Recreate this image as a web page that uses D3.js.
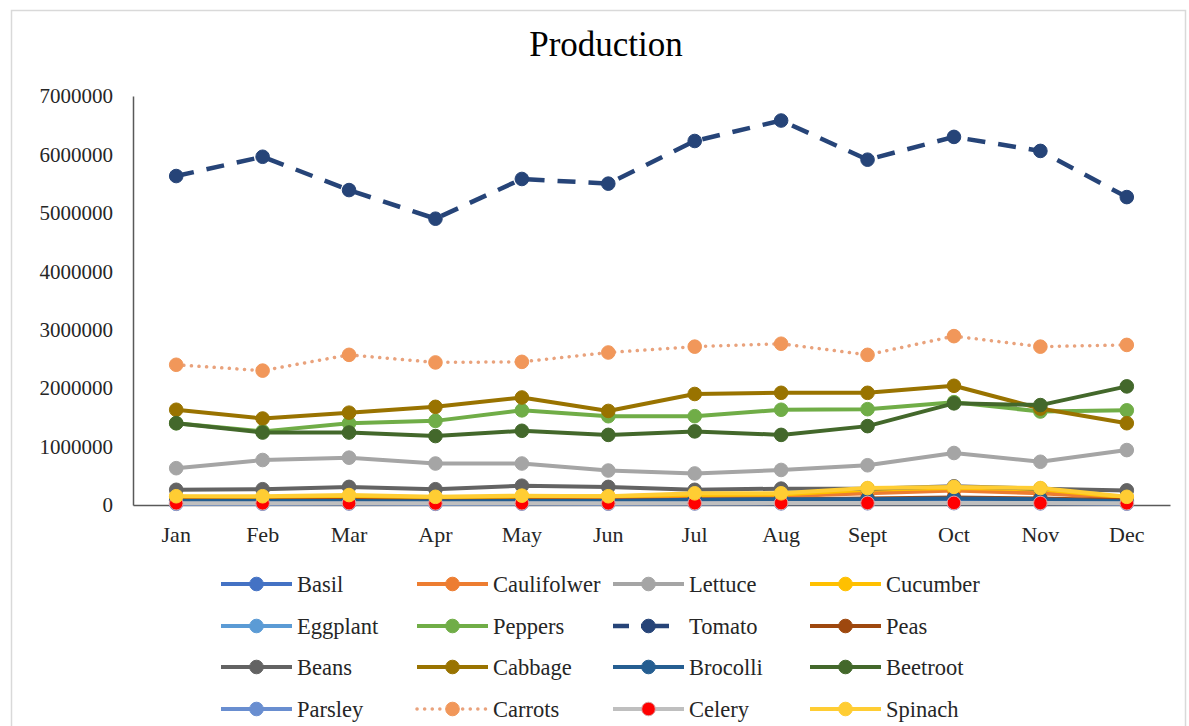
<!DOCTYPE html>
<html>
<head>
<meta charset="utf-8">
<script src="https://cdn.jsdelivr.net/npm/d3@7"></script>
<style>
  html, body { margin: 0; padding: 0; background: #ffffff; }
  svg text { font-family: "Liberation Serif", "Times New Roman", serif; fill: #262626; }
</style>
</head>
<body>
<svg id="chart" width="1189" height="726"></svg>
<script>
// Monthly production per vegetable
const months = ["Jan", "Feb", "Mar", "Apr", "May", "Jun", "Jul", "Aug", "Sept", "Oct", "Nov", "Dec"];
const yTicks = [0, 1000000, 2000000, 3000000, 4000000, 5000000, 6000000, 7000000];

const basil      = [40000, 45000, 50000, 42000, 48000, 45000, 50000, 52000, 55000, 60000, 50000, 45000];
const cauliflower= [120000, 110000, 130000, 100000, 120000, 110000, 130000, 150000, 200000, 250000, 200000, 120000];
const lettuce    = [630000, 770000, 810000, 710000, 710000, 590000, 540000, 600000, 680000, 890000, 740000, 940000];
const cucumber   = [140000, 130000, 150000, 120000, 140000, 150000, 170000, 180000, 260000, 290000, 270000, 130000];
const eggplant   = [30000, 32000, 35000, 30000, 34000, 32000, 36000, 38000, 40000, 42000, 38000, 33000];
const peppers    = [1400000, 1260000, 1400000, 1440000, 1620000, 1520000, 1520000, 1630000, 1640000, 1760000, 1600000, 1620000];
const tomato     = [5630000, 5960000, 5390000, 4900000, 5580000, 5500000, 6230000, 6580000, 5910000, 6300000, 6060000, 5270000];
const peas       = [80000, 75000, 85000, 70000, 80000, 75000, 90000, 95000, 110000, 130000, 110000, 80000];
const beans      = [260000, 270000, 310000, 270000, 330000, 310000, 260000, 280000, 280000, 320000, 280000, 250000];
const cabbage    = [1630000, 1480000, 1580000, 1680000, 1840000, 1610000, 1900000, 1920000, 1920000, 2040000, 1650000, 1400000];
const brocolli   = [70000, 70000, 70000, 60000, 70000, 70000, 90000, 100000, 100000, 110000, 100000, 60000];
const beetroot   = [1400000, 1240000, 1240000, 1180000, 1270000, 1200000, 1260000, 1200000, 1350000, 1740000, 1710000, 2030000];
const parsley    = [20000, 22000, 25000, 20000, 24000, 22000, 26000, 28000, 30000, 32000, 28000, 22000];
const carrots    = [2400000, 2300000, 2570000, 2440000, 2450000, 2610000, 2710000, 2760000, 2570000, 2890000, 2710000, 2740000];
const celery     = [30000, 30000, 32000, 28000, 30000, 30000, 32000, 34000, 35000, 36000, 34000, 30000];
const spinach    = [150000, 150000, 170000, 140000, 160000, 150000, 200000, 200000, 290000, 310000, 290000, 140000];

const seriesNames = ["Basil", "Caulifolwer", "Lettuce", "Cucumber", "Eggplant", "Peppers", "Tomato", "Peas",
                     "Beans", "Cabbage", "Brocolli", "Beetroot", "Parsley", "Carrots", "Celery", "Spinach"];
const seriesValues = [basil, cauliflower, lettuce, cucumber, eggplant, peppers, tomato, peas,
                      beans, cabbage, brocolli, beetroot, parsley, carrots, celery, spinach];

// Styling per series: line colour, marker colour, dash style
const styles = {
  "Basil":       { line: "#4472C4", marker: "#4472C4" },
  "Caulifolwer": { line: "#ED7D31", marker: "#ED7D31" },
  "Lettuce":     { line: "#A5A5A5", marker: "#A5A5A5" },
  "Cucumber":    { line: "#FFC000", marker: "#FFC000" },
  "Eggplant":    { line: "#5B9BD5", marker: "#5B9BD5" },
  "Peppers":     { line: "#70AD47", marker: "#70AD47" },
  "Tomato":      { line: "#264478", marker: "#264478", dash: "18,13", width: 4.5, legendDash: "16,12,28,15" },
  "Peas":        { line: "#9E480E", marker: "#9E480E" },
  "Beans":       { line: "#636363", marker: "#636363" },
  "Cabbage":     { line: "#997300", marker: "#997300" },
  "Brocolli":    { line: "#255E91", marker: "#255E91" },
  "Beetroot":    { line: "#43682B", marker: "#43682B" },
  "Parsley":     { line: "#698ED0", marker: "#698ED0" },
  "Carrots":     { line: "#E9A27C", marker: "#F1975A", dash: "0.1,7.5", width: 3.5, cap: "round" },
  "Celery":      { line: "#BFBFBF", marker: "#FF0000", markerStroke: "#D9A3A3" },
  "Spinach":     { line: "#FFCD33", marker: "#FFCD33" }
};

const svg = d3.select("#chart");

// chart frame
svg.append("rect")
  .attr("x", 11.5).attr("y", 10.5)
  .attr("width", 1174).attr("height", 740)
  .attr("fill", "#ffffff")
  .attr("stroke", "#D9D9D9")
  .attr("stroke-width", 1.5);

const plot = { left: 133, right: 1170, top: 96, bottom: 505 };

const x = d3.scaleBand().domain(months).range([plot.left, plot.right]).padding(0);
const y = d3.scaleLinear().domain([0, 7000000]).range([plot.bottom, plot.top]);
const cx = m => x(m) + x.bandwidth() / 2;

// title
svg.append("text")
  .attr("x", 606).attr("y", 56)
  .attr("text-anchor", "middle")
  .style("font-size", "35px")
  .style("fill", "#000000")
  .text("Production");

// y axis
const yAxis = d3.axisLeft(y).tickValues(yTicks).tickFormat(d3.format("d")).tickSize(0).tickPadding(20);
const gy = svg.append("g").attr("transform", `translate(${plot.left},0)`).call(yAxis);
gy.select(".domain").attr("stroke", "#595959").attr("stroke-width", 1.5);
gy.selectAll("text").style("font-size", "21px").style("fill", "#262626");

// x axis
const xAxis = d3.axisBottom(x).tickSize(0).tickPadding(21);
const gx = svg.append("g").attr("transform", `translate(0,${plot.bottom})`).call(xAxis);
gx.select(".domain").attr("stroke", "#595959").attr("stroke-width", 1.5);
gx.selectAll("text").style("font-size", "22px").style("fill", "#262626");

// series lines and markers, drawn in legend order
const line = d3.line().x((d, i) => cx(months[i])).y(d => y(d));
const markerR = 6.8;

seriesNames.forEach((name, si) => {
  const st = styles[name];
  const vals = seriesValues[si];
  const g = svg.append("g").attr("class", "series");
  g.append("path")
    .datum(vals)
    .attr("d", line)
    .attr("fill", "none")
    .attr("stroke", st.line)
    .attr("stroke-width", st.width || 4)
    .attr("stroke-linejoin", "round")
    .attr("stroke-linecap", st.cap || "butt")
    .attr("stroke-dasharray", st.dash || null);
  g.selectAll("circle")
    .data(vals)
    .join("circle")
    .attr("cx", (d, i) => cx(months[i]))
    .attr("cy", d => y(d))
    .attr("r", markerR)
    .attr("fill", st.marker)
    .attr("stroke", st.markerStroke || st.marker)
    .attr("stroke-width", 1);
});

// legend: 4 columns x 4 rows
const legendCols = [221, 417, 613, 810];
const legendRows = [584, 626, 667, 709];
const sampleLen = 71;

seriesNames.forEach((name, i) => {
  const st = styles[name];
  const col = i % 4, row = Math.floor(i / 4);
  const lx = legendCols[col], ly = legendRows[row];
  const g = svg.append("g").attr("transform", `translate(${lx},${ly})`);
  g.append("line")
    .attr("x1", 0).attr("x2", sampleLen).attr("y1", 0).attr("y2", 0)
    .attr("stroke", st.line)
    .attr("stroke-width", st.width || 4)
    .attr("stroke-linecap", st.cap || "butt")
    .attr("stroke-dasharray", st.legendDash || st.dash || null);
  g.append("circle")
    .attr("cx", sampleLen / 2).attr("cy", 0).attr("r", markerR)
    .attr("fill", st.marker)
    .attr("stroke", st.markerStroke || st.marker)
    .attr("stroke-width", 1);
  g.append("text")
    .attr("x", sampleLen + 5).attr("y", 8)
    .style("font-size", "22.5px")
    .style("fill", "#262626")
    .text(name);
});
</script>
</body>
</html>
